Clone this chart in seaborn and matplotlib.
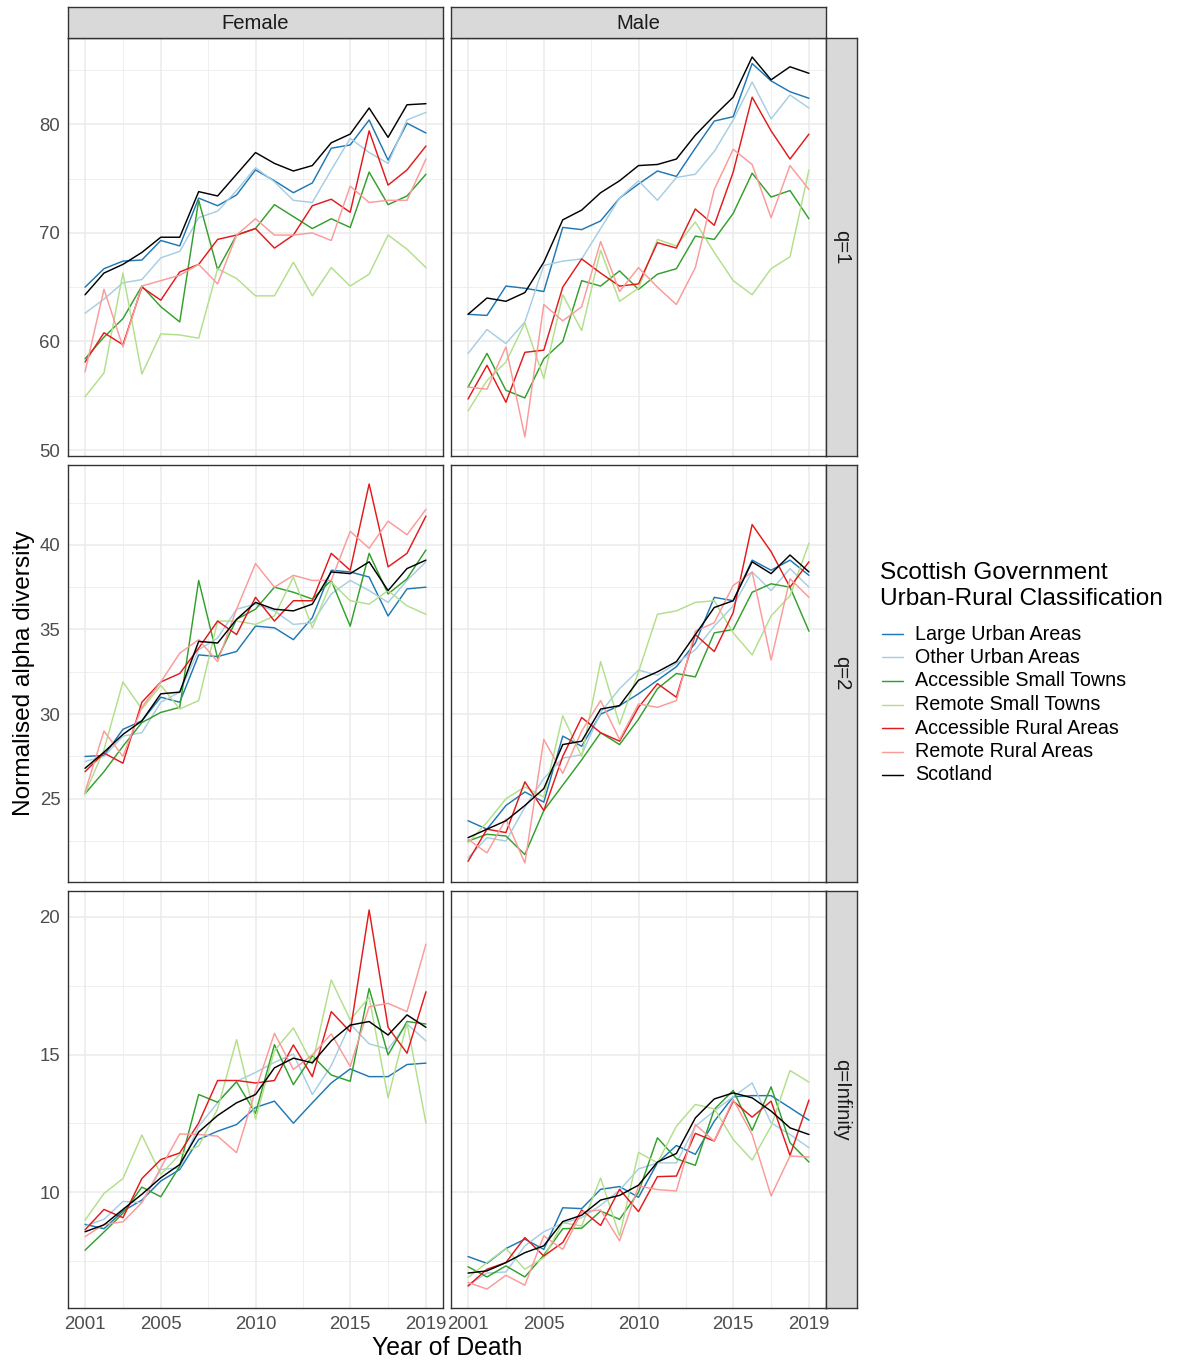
import numpy as np
import pandas as pd
import matplotlib
matplotlib.use("Agg")
import matplotlib.pyplot as plt
from matplotlib.lines import Line2D
from matplotlib.ticker import MultipleLocator, FixedLocator
import seaborn as sns

# ---------------- data ----------------
YEARS = list(range(2001, 2020))
CATEGORIES = ["Large Urban Areas", "Other Urban Areas", "Accessible Small Towns",
              "Remote Small Towns", "Accessible Rural Areas", "Remote Rural Areas", "Scotland"]
COLORS = ["#1F78B4", "#A6CEE3", "#33A02C", "#B2DF8A", "#E31A1C", "#FB9A99", "#000000"]
SEXES = ["Female", "Male"]
QLABELS = ["q=1", "q=2", "q=Infinity"]
X_TICKS = [2001, 2005, 2010, 2015, 2019]
Y_TICKS = {"q=1": [50, 60, 70, 80], "q=2": [25, 30, 35, 40], "q=Infinity": [10, 15, 20]}
LEGEND_TITLE = ["Scottish Government", "Urban-Rural Classification"]

female_q1 = {
    "Large Urban Areas":      [65.0, 66.7, 67.4, 67.5, 69.3, 68.8, 73.2, 72.5, 73.5, 75.8, 74.8, 73.7, 74.6, 77.8, 78.1, 80.4, 76.7, 80.1, 79.2],
    "Other Urban Areas":      [62.6, 63.9, 65.4, 65.7, 67.7, 68.3, 71.4, 72.0, 73.9, 76.0, 74.7, 73.0, 72.8, 75.8, 78.7, 77.4, 76.4, 80.4, 81.1],
    "Accessible Small Towns": [58.4, 60.4, 62.1, 65.1, 63.2, 61.8, 73.0, 66.6, 69.8, 70.4, 72.6, 71.5, 70.4, 71.3, 70.5, 75.6, 72.6, 73.4, 75.4],
    "Remote Small Towns":     [54.9, 57.1, 66.3, 57.0, 60.7, 60.6, 60.3, 66.7, 65.8, 64.2, 64.2, 67.3, 64.2, 66.8, 65.1, 66.2, 69.8, 68.5, 66.8],
    "Accessible Rural Areas": [58.1, 60.8, 59.7, 65.0, 63.8, 66.4, 67.1, 69.4, 69.8, 70.4, 68.6, 69.8, 72.5, 73.1, 71.9, 79.4, 74.4, 75.8, 78.0],
    "Remote Rural Areas":     [57.2, 64.8, 59.5, 65.1, 65.6, 66.1, 67.1, 65.3, 69.8, 71.3, 69.8, 69.8, 70.0, 69.3, 74.3, 72.8, 73.0, 73.0, 76.8],
    "Scotland":               [64.3, 66.3, 67.1, 68.2, 69.6, 69.6, 73.8, 73.4, 75.4, 77.4, 76.4, 75.7, 76.2, 78.3, 79.1, 81.5, 78.8, 81.8, 81.9],
}
male_q1 = {
    "Large Urban Areas":      [62.5, 62.4, 65.1, 64.9, 64.6, 70.5, 70.3, 71.1, 73.2, 74.5, 75.7, 75.2, 77.8, 80.3, 80.7, 85.6, 84.0, 83.0, 82.4],
    "Other Urban Areas":      [58.9, 61.1, 59.8, 61.8, 67.0, 67.4, 67.6, 70.4, 73.2, 74.8, 73.0, 75.1, 75.4, 77.5, 80.4, 83.9, 80.5, 82.7, 81.5],
    "Accessible Small Towns": [55.8, 58.9, 55.5, 54.8, 58.4, 60.0, 65.6, 65.1, 66.5, 64.8, 66.2, 66.7, 69.7, 69.4, 71.8, 75.5, 73.3, 73.9, 71.3],
    "Remote Small Towns":     [53.6, 56.4, 58.1, 61.7, 56.6, 64.3, 61.0, 68.4, 63.7, 64.9, 69.4, 68.8, 71.0, 68.2, 65.6, 64.3, 66.7, 67.8, 75.8],
    "Accessible Rural Areas": [54.7, 57.8, 54.4, 59.0, 59.2, 65.0, 67.6, 66.3, 65.1, 65.3, 69.1, 68.6, 72.2, 70.7, 75.6, 82.5, 79.4, 76.8, 79.1],
    "Remote Rural Areas":     [55.8, 55.6, 59.5, 51.2, 63.4, 61.9, 63.2, 69.2, 64.6, 66.8, 65.0, 63.4, 66.8, 74.0, 77.7, 76.3, 71.4, 76.2, 74.0],
    "Scotland":               [62.5, 64.0, 63.7, 64.5, 67.3, 71.2, 72.1, 73.7, 74.8, 76.2, 76.3, 76.8, 79.0, 80.8, 82.5, 86.2, 84.1, 85.3, 84.7],
}
female_q2 = {
    "Large Urban Areas":      [27.5, 27.55, 29.1, 29.6, 31.0, 30.7, 33.5, 33.4, 33.7, 35.2, 35.1, 34.4, 35.7, 38.5, 38.4, 38.1, 35.8, 37.4, 37.5],
    "Other Urban Areas":      [27.2, 27.5, 28.7, 28.9, 30.7, 31.3, 33.8, 34.5, 36.2, 36.5, 36.1, 35.3, 35.4, 37.1, 37.9, 37.3, 36.6, 37.9, 39.0],
    "Accessible Small Towns": [25.3, 26.6, 28.1, 29.5, 30.1, 30.4, 37.9, 33.3, 35.6, 36.2, 37.5, 37.2, 36.8, 37.9, 35.2, 39.5, 37.1, 38.0, 39.7],
    "Remote Small Towns":     [25.3, 27.9, 31.9, 30.3, 31.7, 30.3, 30.8, 35.5, 35.5, 35.3, 35.8, 38.1, 35.1, 37.8, 36.7, 36.5, 37.3, 36.4, 35.9],
    "Accessible Rural Areas": [26.6, 27.7, 27.1, 30.7, 31.9, 32.4, 33.9, 35.5, 34.7, 36.9, 35.5, 36.7, 36.7, 39.5, 38.5, 43.6, 38.7, 39.5, 41.7],
    "Remote Rural Areas":     [25.4, 29.0, 27.5, 30.4, 31.9, 33.6, 34.4, 33.1, 36.2, 38.9, 37.5, 38.2, 37.9, 37.9, 40.8, 39.8, 41.4, 40.6, 42.1],
    "Scotland":               [26.8, 27.75, 28.8, 29.6, 31.2, 31.3, 34.3, 34.2, 35.6, 36.6, 36.2, 36.1, 36.5, 38.4, 38.3, 39.0, 37.3, 38.6, 39.1],
}
male_q2 = {
    "Large Urban Areas":      [23.7, 23.2, 24.6, 25.4, 24.8, 28.7, 28.1, 30.0, 30.5, 31.2, 32.0, 32.8, 34.2, 36.9, 36.7, 39.1, 38.5, 39.1, 38.2],
    "Other Urban Areas":      [21.5, 22.7, 22.5, 24.5, 26.2, 27.4, 27.6, 30.1, 31.5, 32.6, 32.3, 33.0, 33.8, 35.2, 36.4, 38.4, 37.3, 38.6, 37.5],
    "Accessible Small Towns": [22.5, 22.9, 22.8, 21.7, 24.3, 25.8, 27.3, 28.9, 28.2, 29.7, 31.5, 32.4, 32.2, 34.8, 35.0, 37.2, 37.7, 37.5, 34.9],
    "Remote Small Towns":     [22.4, 23.6, 25.0, 25.7, 25.1, 29.9, 27.5, 33.1, 29.4, 32.5, 35.9, 36.1, 36.6, 36.7, 34.8, 33.5, 35.8, 37.0, 40.1],
    "Accessible Rural Areas": [21.3, 23.2, 23.0, 26.0, 24.3, 27.5, 29.8, 28.9, 28.4, 30.4, 31.8, 31.0, 34.7, 33.7, 36.0, 41.2, 39.6, 37.5, 39.0],
    "Remote Rural Areas":     [22.6, 21.8, 23.8, 21.2, 28.5, 26.5, 29.0, 30.8, 28.5, 30.6, 30.4, 30.8, 34.9, 35.4, 37.6, 38.4, 33.2, 38.0, 36.9],
    "Scotland":               [22.7, 23.2, 23.7, 24.6, 25.6, 28.2, 28.4, 30.3, 30.5, 32.0, 32.5, 33.1, 34.7, 36.3, 36.7, 39.0, 38.3, 39.4, 38.4],
}
female_qinf = {
    "Large Urban Areas":      [8.84, 8.68, 9.32, 9.72, 10.41, 10.83, 11.92, 12.22, 12.46, 13.08, 13.31, 12.51, 13.25, 13.97, 14.48, 14.20, 14.20, 14.64, 14.69],
    "Other Urban Areas":      [8.78, 9.02, 9.67, 9.63, 10.83, 10.89, 12.40, 13.25, 14.03, 14.35, 14.72, 15.02, 13.55, 14.60, 16.11, 15.39, 15.20, 16.11, 15.50],
    "Accessible Small Towns": [7.90, 8.56, 9.24, 10.19, 9.84, 10.95, 13.55, 13.27, 14.01, 12.87, 15.36, 13.91, 14.96, 14.26, 14.03, 17.40, 14.99, 16.20, 16.11],
    "Remote Small Towns":     [8.99, 9.96, 10.50, 12.08, 10.65, 11.38, 11.68, 13.03, 15.54, 12.67, 15.14, 15.97, 14.66, 17.71, 16.26, 17.08, 13.43, 16.14, 12.52],
    "Accessible Rural Areas": [8.64, 9.38, 9.08, 10.50, 11.19, 11.43, 12.52, 14.06, 14.06, 13.97, 14.06, 15.35, 14.20, 16.56, 15.83, 20.25, 15.99, 15.05, 17.28],
    "Remote Rural Areas":     [8.39, 8.84, 8.93, 9.63, 10.89, 12.12, 12.10, 12.04, 11.44, 13.70, 15.77, 14.46, 14.99, 15.75, 14.57, 16.74, 16.86, 16.56, 19.01],
    "Scotland":               [8.57, 8.82, 9.38, 9.93, 10.53, 11.01, 12.19, 12.79, 13.25, 13.55, 14.52, 14.87, 14.70, 15.50, 16.07, 16.20, 15.71, 16.44, 15.99],
}
male_qinf = {
    "Large Urban Areas":      [7.67, 7.42, 7.96, 8.30, 7.93, 9.44, 9.41, 10.11, 10.21, 9.82, 11.07, 11.70, 11.38, 12.58, 13.47, 13.51, 13.51, 13.07, 12.62],
    "Other Urban Areas":      [6.63, 7.07, 7.11, 8.06, 8.57, 8.88, 9.08, 9.53, 10.08, 10.85, 11.07, 11.07, 12.40, 12.95, 13.47, 13.97, 12.52, 12.10, 11.62],
    "Accessible Small Towns": [7.30, 6.93, 7.33, 6.93, 7.72, 8.68, 8.70, 9.32, 9.02, 10.00, 11.98, 11.22, 10.98, 13.01, 13.70, 12.25, 13.83, 11.80, 11.10],
    "Remote Small Towns":     [6.91, 7.45, 7.96, 7.21, 7.63, 8.90, 8.78, 10.52, 8.42, 11.45, 11.07, 12.40, 13.19, 13.03, 11.92, 11.17, 12.40, 14.42, 14.00],
    "Accessible Rural Areas": [6.60, 7.21, 7.45, 8.36, 7.69, 8.18, 9.36, 8.80, 10.11, 9.30, 10.57, 10.59, 12.14, 11.86, 13.31, 12.73, 13.31, 11.34, 13.35],
    "Remote Rural Areas":     [6.73, 6.49, 6.99, 6.63, 8.42, 7.93, 9.29, 9.36, 8.24, 10.23, 10.10, 10.05, 12.46, 11.86, 13.37, 12.10, 9.87, 11.32, 11.28],
    "Scotland":               [7.07, 7.15, 7.45, 7.81, 8.06, 8.94, 9.17, 9.72, 9.89, 10.26, 11.10, 11.41, 12.70, 13.39, 13.61, 13.43, 12.95, 12.34, 12.10],
}

PANELS = {
    ("Female", "q=1"): female_q1, ("Male", "q=1"): male_q1,
    ("Female", "q=2"): female_q2, ("Male", "q=2"): male_q2,
    ("Female", "q=Infinity"): female_qinf, ("Male", "q=Infinity"): male_qinf,
}

rows = []
for (sex, q), series in PANELS.items():
    for cat in CATEGORIES:
        for yr, v in zip(YEARS, series[cat]):
            rows.append({"sex": sex, "q": q, "category": cat, "year": yr, "value": v})
df = pd.DataFrame(rows)

# ---------------- style ----------------
sns.set_theme(style="white")
plt.rcParams["font.family"] = ["Liberation Sans", "DejaVu Sans"]

W, H = 1181, 1360
fig = plt.figure(figsize=(W / 100, H / 100), dpi=100)

def rect(x0, y0, x1, y1):
    return [x0 / W, 1 - y1 / H, (x1 - x0) / W, (y1 - y0) / H]

def fx(x):
    return x / W

def fy(y):
    return 1 - y / H

COL_X = [(68, 443), (451, 826)]
ROW_Y = [(38, 456), (465, 882), (891, 1308)]
BORDER = "#333333"
GRID = "#EBEBEB"
TICKC = "#4D4D4D"
LW = 1.05

axes = {}
for r, q in enumerate(QLABELS):
    left_ax = None
    for c, sex in enumerate(SEXES):
        x0, x1 = COL_X[c]
        y0, y1 = ROW_Y[r]
        ax = fig.add_axes(rect(x0, y0, x1, y1), sharey=left_ax)
        if left_ax is None:
            left_ax = ax
        axes[(sex, q)] = ax
        sub = df[(df["sex"] == sex) & (df["q"] == q)]
        sns.lineplot(data=sub, x="year", y="value", hue="category", hue_order=CATEGORIES,
                     palette=COLORS, estimator=None, sort=False, legend=False,
                     linewidth=LW, ax=ax)
        ax.set_xlim(2001 - 0.9, 2019 + 0.9)
        ax.xaxis.set_major_locator(FixedLocator(X_TICKS))
        ax.xaxis.set_minor_locator(FixedLocator([2003, 2007.5, 2012.5, 2017]))
        ax.yaxis.set_major_locator(FixedLocator(Y_TICKS[q]))
        step = Y_TICKS[q][1] - Y_TICKS[q][0]
        ax.yaxis.set_minor_locator(MultipleLocator(step / 2))
        ax.set_axisbelow(True)
        ax.grid(which="major", color=GRID, linewidth=1.1)
        ax.grid(which="minor", color=GRID, linewidth=0.55)
        ax.set_facecolor("white")
        for sp in ax.spines.values():
            sp.set_color(BORDER)
            sp.set_linewidth(1.0)
            sp.set_visible(True)
        ax.tick_params(which="minor", length=0)
        ax.tick_params(which="major", length=3.5, width=0.8, color=BORDER,
                       labelsize=13.4, labelcolor=TICKC, pad=2)
        ax.set_xlabel("")
        ax.set_ylabel("")
        if c == 1:
            ax.tick_params(axis="y", which="both", left=False, labelleft=False)
        if r < 2:
            ax.tick_params(axis="x", which="both", bottom=False, labelbottom=False)

# y-limits per row with 5% expansion
for q in QLABELS:
    vals = df[df["q"] == q]["value"]
    lo, hi = vals.min(), vals.max()
    pad = (hi - lo) * 0.05
    axes[("Female", q)].set_ylim(lo - pad, hi + pad)

# strips
STRIP_FILL = "#D9D9D9"
for c, sex in enumerate(SEXES):
    x0, x1 = COL_X[c]
    sax = fig.add_axes(rect(x0, 7, x1, 38))
    sax.set_facecolor(STRIP_FILL)
    sax.set_xticks([]); sax.set_yticks([])
    for sp in sax.spines.values():
        sp.set_color(BORDER); sp.set_linewidth(1.0)
    sax.text(0.5, 0.47, sex, ha="center", va="center", fontsize=14.6, color="#1A1A1A",
             transform=sax.transAxes)
for r, q in enumerate(QLABELS):
    y0, y1 = ROW_Y[r]
    sax = fig.add_axes(rect(826, y0, 857, y1))
    sax.set_facecolor(STRIP_FILL)
    sax.set_xticks([]); sax.set_yticks([])
    for sp in sax.spines.values():
        sp.set_color(BORDER); sp.set_linewidth(1.0)
    sax.text(0.5, 0.5, q, ha="center", va="center", rotation=-90, fontsize=14.6,
             color="#1A1A1A", transform=sax.transAxes)

# axis titles
fig.text(fx(24), fy(673), "Normalised alpha diversity", rotation=90,
         ha="center", va="center", fontsize=17.6, color="black")
fig.text(fx(447), fy(1348), "Year of Death", ha="center", va="center",
         fontsize=17.8, color="black")

# legend (drawn manually to match ggplot guide placement)
fig.text(fx(880), fy(573), LEGEND_TITLE[0], ha="left", va="center", fontsize=17.6, color="black")
fig.text(fx(880), fy(599), LEGEND_TITLE[1], ha="left", va="center", fontsize=17.6, color="black")
for i, (cat, col) in enumerate(zip(CATEGORIES, COLORS)):
    yy = 634 + i * 23.5
    fig.add_artist(Line2D([fx(882), fx(903)], [fy(yy), fy(yy)], color=col, lw=LW,
                          transform=fig.transFigure))
    fig.text(fx(915), fy(yy), cat, ha="left", va="center", fontsize=14.2, color="black")

fig.savefig("out.png", dpi=100)
